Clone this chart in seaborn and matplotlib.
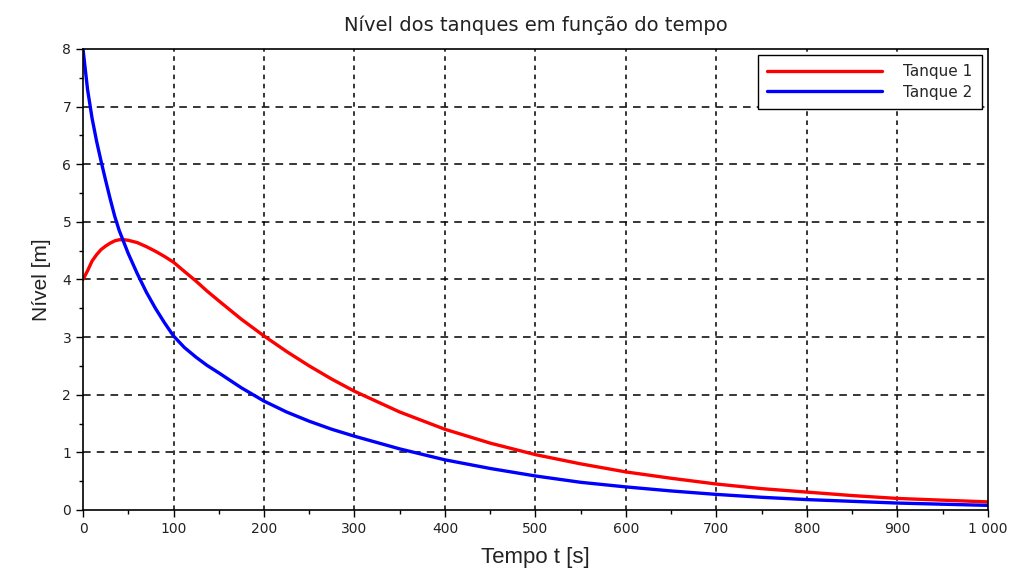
import matplotlib
matplotlib.use("Agg")
import matplotlib.pyplot as plt
from matplotlib.ticker import MultipleLocator, FuncFormatter
import pandas as pd
import seaborn as sns

# valores
tempo = [0, 5, 10, 15, 20, 25, 30, 35, 40, 45, 50, 60, 70, 80, 90, 100,
         112, 125, 137, 150, 175, 200, 225, 250, 275, 300, 350, 400, 450,
         500, 550, 600, 650, 700, 750, 800, 850, 900, 950, 1000]
tanque1 = [4.0, 4.15, 4.32, 4.43, 4.52, 4.58, 4.63, 4.67, 4.69, 4.69, 4.68,
           4.64, 4.57, 4.49, 4.40, 4.30, 4.14, 3.97, 3.80, 3.63, 3.31, 3.02,
           2.75, 2.50, 2.27, 2.06, 1.70, 1.40, 1.16, 0.96, 0.80, 0.66, 0.55,
           0.45, 0.37, 0.31, 0.25, 0.20, 0.17, 0.14]
tanque2 = [8.0, 7.3, 6.8, 6.4, 6.05, 5.72, 5.4, 5.1, 4.85, 4.65, 4.45, 4.1,
           3.78, 3.5, 3.25, 3.02, 2.82, 2.65, 2.51, 2.38, 2.12, 1.89, 1.70,
           1.54, 1.40, 1.28, 1.06, 0.87, 0.72, 0.59, 0.48, 0.40, 0.33, 0.27,
           0.22, 0.18, 0.15, 0.12, 0.10, 0.08]
nomes = ["Tanque 1", "Tanque 2"]
cores = ["#ff0000", "#0000ff"]

df = pd.DataFrame({
    "t": tempo * 2,
    "nivel": tanque1 + tanque2,
    "serie": [nomes[0]] * len(tempo) + [nomes[1]] * len(tempo),
})

sns.set_style("white")
plt.rcParams["font.family"] = ["DejaVu Sans"]
narrow = ["Liberation Sans", "DejaVu Sans"]

fig = plt.figure(figsize=(10.16, 5.73), dpi=100)
ax = fig.add_axes([0.0817, 0.11, 0.8907, 0.8045])

sns.lineplot(data=df, x="t", y="nivel", hue="serie", palette=cores,
             linewidth=2.4, ax=ax, sort=False)

ax.set_xlim(0, 1000)
ax.set_ylim(0, 8)
ax.xaxis.set_major_locator(MultipleLocator(100))
ax.xaxis.set_minor_locator(MultipleLocator(50))
ax.yaxis.set_major_locator(MultipleLocator(1))
ax.yaxis.set_minor_locator(MultipleLocator(0.5))
ax.xaxis.set_major_formatter(FuncFormatter(
    lambda v, p: f"{int(v):,}".replace(",", " ")))

# grade: verticais pontilhadas, horizontais tracejadas
for xv in range(100, 1000, 100):
    ax.axvline(xv, color="black", lw=1.1, ls=(0, (3, 3)), zorder=0.5)
for yv in range(1, 8):
    ax.axhline(yv, color="black", lw=1.1, ls=(0, (5, 4)), zorder=0.5)

for s in ax.spines.values():
    s.set_color("black")
    s.set_linewidth(1.2)

ax.tick_params(axis="both", which="both", bottom=True, left=True,
               top=False, right=False)
ax.tick_params(axis="both", which="major", direction="out", length=5,
               width=1, labelsize=10, labelcolor="#222222", color="black")
ax.tick_params(axis="both", which="minor", direction="out", length=3,
               width=1, color="black")

ax.set_title("Nível dos tanques em função do tempo", fontsize=14,
             color="#222222", pad=13)
ax.set_xlabel("Tempo t [s]", fontsize=16, color="#222222", labelpad=8,
              family=narrow)
ax.set_ylabel("Nível [m]", fontsize=15, color="#222222", labelpad=8,
              family=narrow)

leg = ax.legend(loc="upper right", frameon=True, fancybox=False,
                edgecolor="black", fontsize=11, handlelength=7.5,
                handletextpad=1.4, borderpad=0.6, labelspacing=0.35,
                borderaxespad=0.4)
leg.get_frame().set_linewidth(1.0)
leg.get_frame().set_alpha(1)

fig.savefig("out.png", dpi=100)
